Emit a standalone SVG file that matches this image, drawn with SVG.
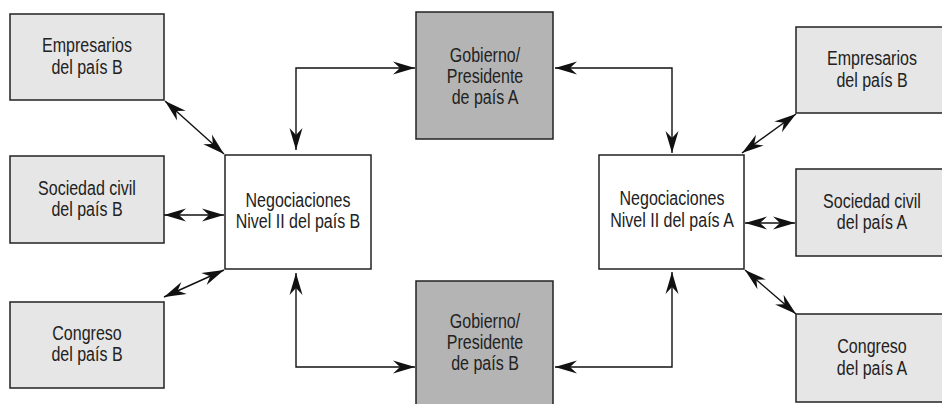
<svg xmlns="http://www.w3.org/2000/svg" width="942" height="404" viewBox="0 0 942 404">
<style>
.box{stroke:#222;stroke-width:1.5}
.light{fill:#e6e6e6}
.dark{fill:#b4b4b4}
.white{fill:#fff}
text{font-family:"Liberation Sans",Arial,sans-serif;font-size:20px;fill:#222;text-anchor:middle}
.conn{fill:none;stroke:#111;stroke-width:1.4;marker-start:url(#ah);marker-end:url(#ah)}
</style>
<defs>
<marker id="ah" markerUnits="userSpaceOnUse" markerWidth="24" markerHeight="16" viewBox="-23 -8 24 16" refX="0" refY="0" orient="auto-start-reverse">
<path d="M0,0 L-22,-6.5 L-15,0 L-22,6.5 Z" fill="#111"/>
</marker>
</defs>
<rect width="942" height="404" fill="#fff"/>
<g id="empresarios-b"><rect class="box light" x="10" y="14" width="154" height="86"/><text transform="matrix(0.8 0 0 1 87 52)">Empresarios</text><text transform="matrix(0.8 0 0 1 87 74)">del país B</text></g>
<g id="sociedad-b"><rect class="box light" x="10" y="156" width="154" height="87"/><text transform="matrix(0.8 0 0 1 87 195)">Sociedad civil</text><text transform="matrix(0.8 0 0 1 87 216)">del país B</text></g>
<g id="congreso-b"><rect class="box light" x="10" y="302" width="154" height="86"/><text transform="matrix(0.8 0 0 1 87 340)">Congreso</text><text transform="matrix(0.8 0 0 1 87 361)">del país B</text></g>
<g id="negociaciones-b"><rect class="box white" x="225" y="155" width="146" height="114"/><text transform="matrix(0.8 0 0 1 298 207)">Negociaciones</text><text transform="matrix(0.8 0 0 1 298 228)">Nivel II del país B</text></g>
<g id="gobierno-a"><rect class="box dark" x="416" y="12" width="137" height="127"/><text transform="matrix(0.8 0 0 1 485 62)">Gobierno/</text><text transform="matrix(0.8 0 0 1 485 83)">Presidente</text><text transform="matrix(0.8 0 0 1 485 104)">de país A</text></g>
<g id="gobierno-b"><rect class="box dark" x="416" y="281" width="137" height="127"/><text transform="matrix(0.8 0 0 1 485 328)">Gobierno/</text><text transform="matrix(0.8 0 0 1 485 349)">Presidente</text><text transform="matrix(0.8 0 0 1 485 370)">de país B</text></g>
<g id="negociaciones-a"><rect class="box white" x="599" y="155" width="145" height="114"/><text transform="matrix(0.8 0 0 1 672 205)">Negociaciones</text><text transform="matrix(0.8 0 0 1 672 227)">Nivel II del país A</text></g>
<g id="empresarios-a"><rect class="box light" x="796" y="27" width="154" height="86"/><text transform="matrix(0.8 0 0 1 872 65)">Empresarios</text><text transform="matrix(0.8 0 0 1 872 87)">del país B</text></g>
<g id="sociedad-a"><rect class="box light" x="796" y="169" width="154" height="87"/><text transform="matrix(0.8 0 0 1 872 208)">Sociedad civil</text><text transform="matrix(0.8 0 0 1 872 229)">del país A</text></g>
<g id="congreso-a"><rect class="box light" x="796" y="314" width="154" height="88"/><text transform="matrix(0.8 0 0 1 872 353)">Congreso</text><text transform="matrix(0.8 0 0 1 872 375)">del país A</text></g>
<g id="connectors">
<path class="conn" d="M165,101 L224,154"/>
<path class="conn" d="M164,215 L224,215"/>
<path class="conn" d="M164,297 L224,270"/>
<path class="conn" d="M296,150 L296,68 L415,68"/>
<path class="conn" d="M555,68 L672,68 L672,153"/>
<path class="conn" d="M296,273 L296,367 L415,367"/>
<path class="conn" d="M555,367 L672,367 L672,272"/>
<path class="conn" d="M742,153 L796,114"/>
<path class="conn" d="M745,223 L795,223"/>
<path class="conn" d="M745,270 L796,314"/>
</g>
</svg>
